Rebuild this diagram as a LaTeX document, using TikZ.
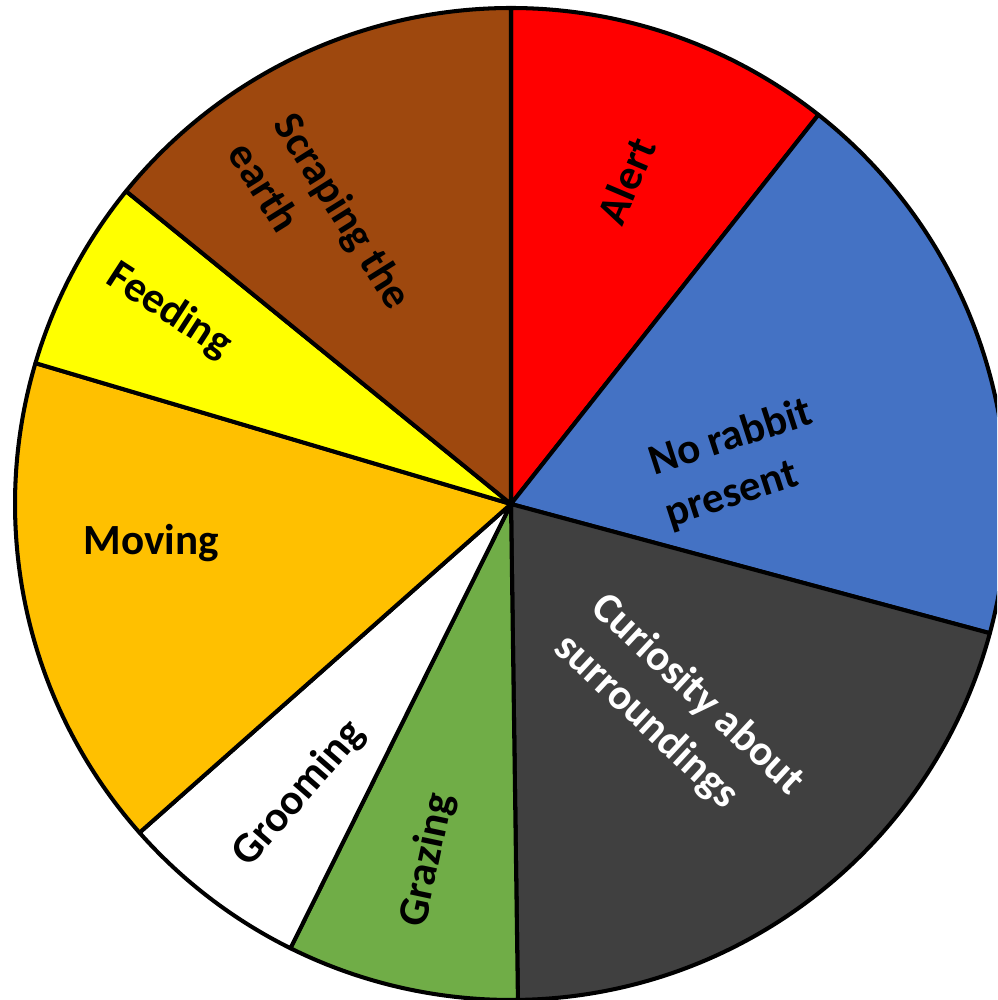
\documentclass[tikz,border=0pt]{standalone}
\usepackage{fontspec}
\setmainfont{Carlito}
\definecolor{alertred}{HTML}{FF0000}
\definecolor{rabbitblue}{HTML}{4472C4}
\definecolor{curiogray}{HTML}{404040}
\definecolor{grazegreen}{HTML}{70AD47}
\definecolor{groomwhite}{HTML}{FFFFFF}
\definecolor{moveorange}{HTML}{FFC000}
\definecolor{feedyellow}{HTML}{FFFF00}
\definecolor{scrapebrown}{HTML}{9E480E}
\tikzset{
  wedge/.style={draw=black, line width=2.3pt, line join=round},
  lbl/.style={font=\bfseries\fontsize{24.5}{31}\selectfont, align=left, inner sep=0pt},
}

\begin{document}
\begin{tikzpicture}
  \useasboundingbox (-10.22,-9.92) rectangle (9.72,10.08);
  \clip (-10.22,-9.92) rectangle (9.72,10.08);
  % slices: start angle / end angle / colour
  \foreach \a/\b/\col in {51.7/90/alertred, -15.1/51.7/rabbitblue, -89.2/-15.1/curiogray,
                          243.6/270.8/grazegreen, 221.5/243.6/groomwhite, 163.5/221.5/moveorange,
                          140.9/163.5/feedyellow, 90/140.9/scrapebrown}{
    \filldraw[wedge, fill=\col] (0,0) -- (\a:9.92) arc[start angle=\a, end angle=\b, radius=9.92] -- cycle;
  }
  \node[lbl, rotate=67] (alert) at (2.3,6.46) {Alert};
  \node[lbl, rotate=18] (rabbit) at (4.56,0.8) {No rabbit\\present};
  \node[lbl, rotate=-43, text=white] (curio) at (3.36,-4.22) {Curiosity about\\surroundings};
  \node[lbl, rotate=78] (graze) at (-1.66,-7.12) {Grazing};
  \node[lbl, rotate=49] (groom) at (-4.24,-5.8) {Grooming};
  \node[lbl] (move) at (-7.2,-0.78) {Moving};
  \node[lbl, rotate=-33] (feed) at (-6.84,3.86) {Feeding};
  \node[lbl, rotate=-58] (scrape) at (-3.8,5.58) {Scraping the\\earth};
\end{tikzpicture}
\end{document}
